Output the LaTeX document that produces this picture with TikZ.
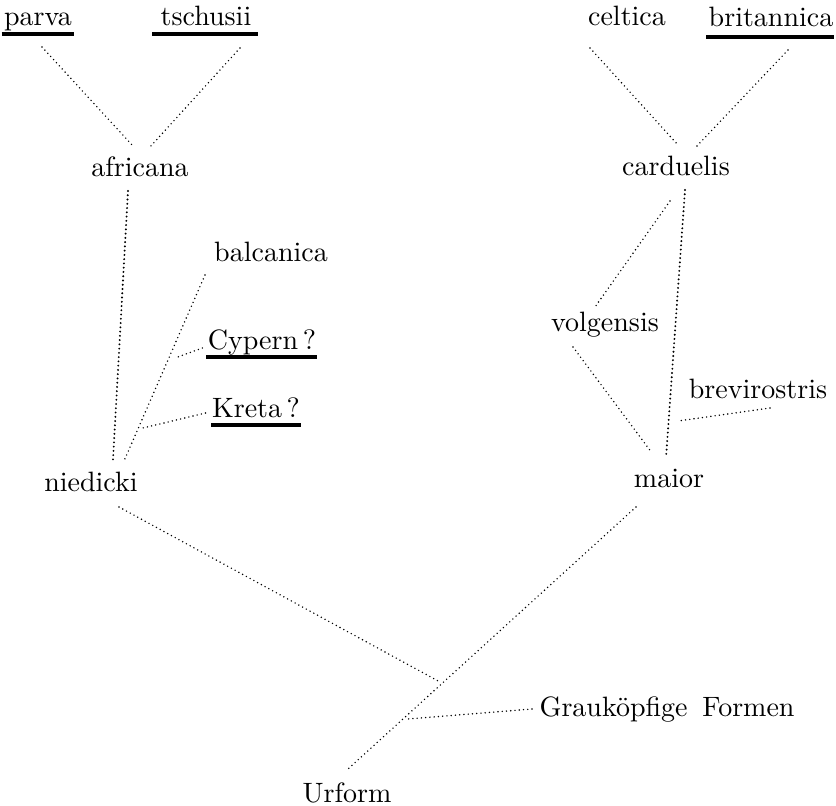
\documentclass[tikz,border=0pt]{standalone}
\begin{document}
\begin{tikzpicture}[x=0.375pt,y=-0.375pt,
  lbl/.style={anchor=base,inner sep=0pt,font=\fontsize{10.5}{12.6}\selectfont},
  dotline/.style={line width=0.6pt,line cap=round,dash pattern=on 0pt off 1.6pt},
  dotheavy/.style={line width=0.8pt,line cap=round,dash pattern=on 0pt off 1.6pt},
  uline/.style={line width=1.2pt}]
\useasboundingbox (0,0) rectangle (836,806);
% labels
\node[lbl] (parva) at (38,26) {parva};
\node[lbl] (tschusii) at (206,26) {tschusii};
\node[lbl] (celtica) at (627,26) {celtica};
\node[lbl] (britannica) at (771,27) {britannica};
\node[lbl] (africana) at (140,177) {africana};
\node[lbl] (carduelis) at (676,176) {carduelis};
\node[lbl] (balcanica) at (271,261) {balcanica};
\node[lbl] (cypern) at (262,350) {Cypern\,?};
\node[lbl] (kreta) at (256,417) {Kreta\,?};
\node[lbl] (niedicki) at (91,491) {niedicki};
\node[lbl] (volgensis) at (605,332) {volgensis};
\node[lbl] (brevirostris) at (758,398) {brevirostris};
\node[lbl] (maior) at (669,487) {maior};
\node[lbl,anchor=base west] (grau) at (539,716) {Grauköpfige\hspace{5.5pt}Formen};
\node[lbl] (urform) at (347,802) {Urform};
% underlines
\draw[uline] ([shift={(-2,8)}]parva.base west) -- ([shift={(2,8)}]parva.base east);
\draw[uline] ([shift={(-8,8)}]tschusii.base west) -- ([shift={(6,8)}]tschusii.base east);
\draw[uline] ([shift={(-2,10)}]britannica.base west) -- ([shift={(0,10)}]britannica.base east);
\draw[uline] ([shift={(-1,7)}]cypern.base west) -- ([shift={(0,7)}]cypern.base east);
\draw[uline] ([shift={(0,8)}]kreta.base west) -- ([shift={(0,8)}]kreta.base east);
% junction points
\coordinate (cJ) at (175,358);
\coordinate (kJ) at (143,428);
\coordinate (bJ) at (678,421);
\coordinate (uJ) at (440,682);
\coordinate (gJ) at (408,719);
% connectors
\draw[dotline] ([shift={(4,21)}]parva.base) -- ([shift={(-7,-31)}]africana.base);
\draw[dotline] ([shift={(34,22)}]tschusii.base) -- ([shift={(10,-30)}]africana.base);
\draw[dotline] ([shift={(-37,22)}]celtica.base) -- ([shift={(2,-31)}]carduelis.base);
\draw[dotline] ([shift={(17,23)}]britannica.base) -- ([shift={(20,-29)}]carduelis.base);
\draw[dotheavy] ([shift={(-12,14)}]africana.base) -- ([shift={(22,-31)}]niedicki.base);
\draw[dotline] ([shift={(-66,14)}]balcanica.base) -- ([shift={(33,-30)}]niedicki.base);
\draw[dotline] ([shift={(-5,-2)}]cypern.base west) -- (cJ);
\draw[dotline] ([shift={(-6,-4)}]kreta.base west) -- (kJ);
\draw[dotheavy] ([shift={(9,14)}]carduelis.base) -- ([shift={(-3,-29)}]maior.base);
\draw[dotline] ([shift={(-6,25)}]carduelis.base) -- ([shift={(-10,-25)}]volgensis.base);
\draw[dotline] ([shift={(-32,15)}]volgensis.base) -- ([shift={(-17,-34)}]maior.base);
\draw[dotline] ([shift={(12,10)}]brevirostris.base) -- (bJ);
\draw[dotline] ([shift={(28,16)}]niedicki.base) -- (uJ);
\draw[dotline] ([shift={(-33,20)}]maior.base) -- ([shift={(1,-33)}]urform.base);
\draw[dotline] ([shift={(-7,-7)}]grau.base west) -- (gJ);
\end{tikzpicture}
\end{document}
